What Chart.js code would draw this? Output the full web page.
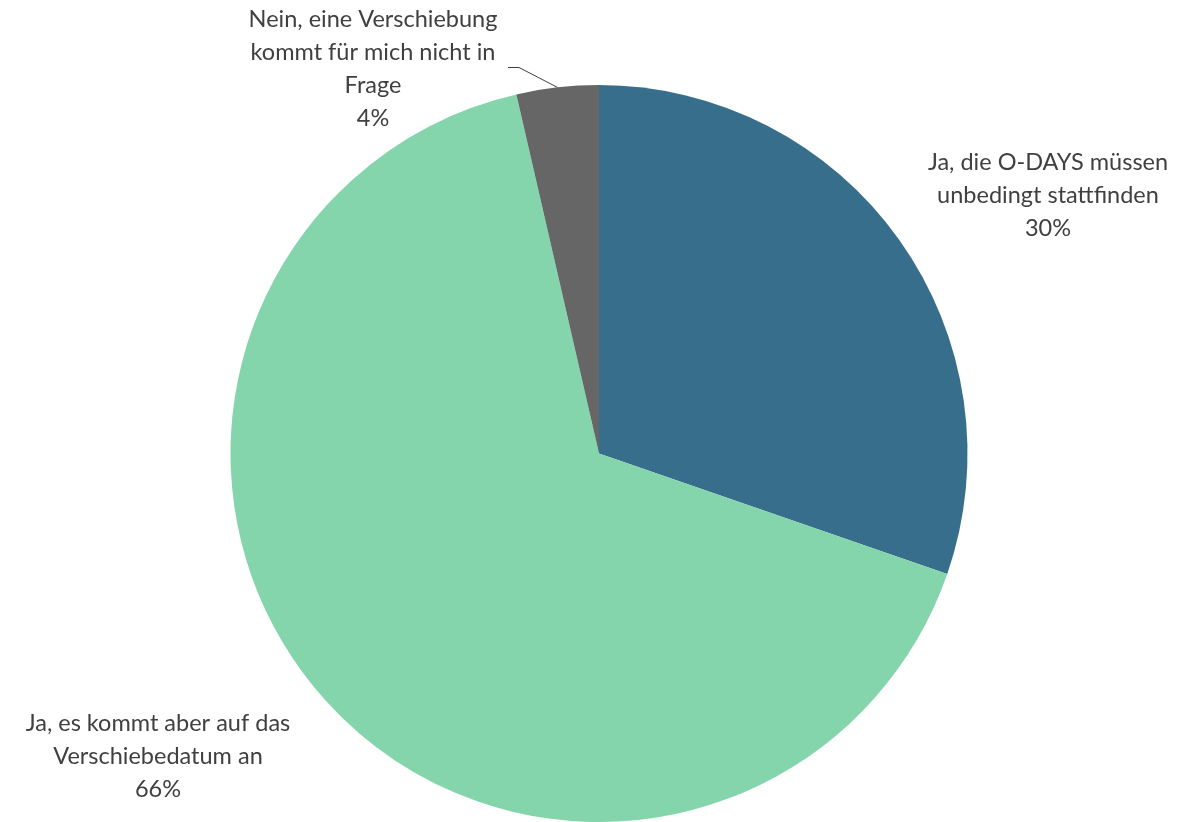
<!DOCTYPE html>
<html>
<head>
<meta charset="utf-8">
<script src="https://cdn.jsdelivr.net/npm/chart.js@4/dist/chart.umd.min.js"></script>
<style>
html,body{margin:0;padding:0;background:#fff;}
#wrap{width:1177px;height:822px;position:relative;}
</style>
</head>
<body>
<div id="wrap"><canvas id="c" width="1177" height="822"></canvas></div>
<script>
const categories = [
  "Ja, die O-DAYS müssen unbedingt stattfinden",
  "Ja, es kommt aber auf das Verschiebedatum an",
  "Nein, eine Verschiebung kommt für mich nicht in Frage"
];
const values = [30.3, 66.1, 3.6];
const labelLines = [
  ["Ja, die O-DAYS müssen", "unbedingt stattfinden"],
  ["Ja, es kommt aber auf das", "Verschiebedatum an"],
  ["Nein, eine Verschiebung", "kommt für mich nicht in", "Frage"]
];
const colors = ["#376E8B", "#85D5AC", "#666666"];

// label anchor offsets relative to pie center (x) and first-line middle (y), in px
const labelPos = [
  {dx: 449, dy: -291},
  {dx: -441, dy: 270},
  {dx: -226, dy: -434}
];

const labelPlugin = {
  id: 'outLabels',
  afterDatasetsDraw(chart) {
    const ctx = chart.ctx;
    const meta = chart.getDatasetMeta(0);
    const arc0 = meta.data[0];
    const cx = arc0.x, cy = arc0.y, R = arc0.outerRadius;
    const total = values.reduce((s, v) => s + v, 0);
    ctx.save();
    ctx.font = '23.5px Lato, "Open Sans", sans-serif';
    ctx.fillStyle = '#404040';
    ctx.textAlign = 'center';
    ctx.textBaseline = 'middle';
    const lh = 33;
    labelLines.forEach((lines, i) => {
      const p = labelPos[i];
      const all = lines.concat([Math.round(values[i] / total * 100) + '%']);
      all.forEach((t, k) => {
        ctx.fillText(t, cx + p.dx, cy + p.dy + k * lh);
      });
    });
    // leader line for small slice
    const a = meta.data[2];
    const mid = (a.startAngle + a.endAngle) / 2;
    const ex = cx + Math.cos(mid) * R, ey = cy + Math.sin(mid) * R;
    ctx.strokeStyle = '#404040';
    ctx.lineWidth = 1;
    ctx.beginPath();
    ctx.moveTo(cx - 91, cy - 386);
    ctx.lineTo(cx - 80, cy - 386);
    ctx.lineTo(ex, ey);
    ctx.stroke();
    ctx.restore();
  }
};

new Chart(document.getElementById('c'), {
  type: 'pie',
  data: {
    labels: categories,
    datasets: [{
      data: values,
      backgroundColor: colors,
      borderWidth: 0,
      hoverOffset: 0
    }]
  },
  options: {
    responsive: false,
    animation: false,
    layout: {padding: {top: 85, bottom: 0, left: 21, right: 0}},
    plugins: {
      legend: {display: false},
      tooltip: {enabled: false}
    }
  },
  plugins: [labelPlugin]
});
</script>
</body>
</html>
